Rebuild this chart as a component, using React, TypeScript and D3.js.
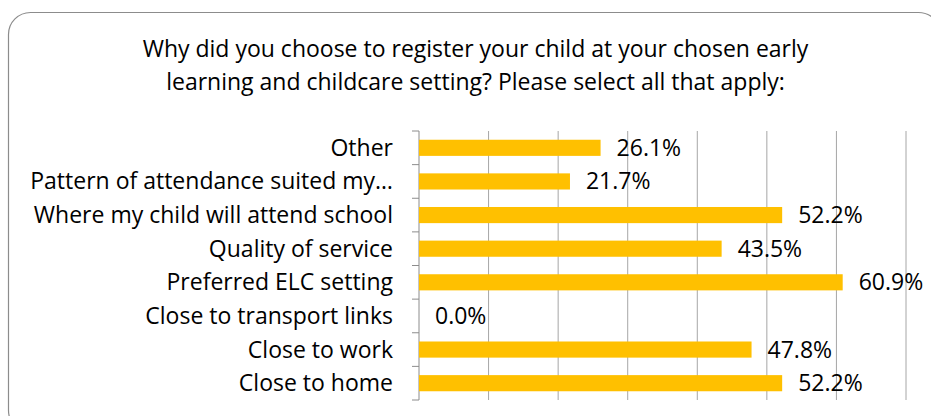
import React from "react";
import * as d3 from "d3";

const categories = [
  "Close to home",
  "Close to work",
  "Close to transport links",
  "Preferred ELC setting",
  "Quality of service",
  "Where my child will attend school",
  "Pattern of attendance suited my…",
  "Other",
];
const values = [52.2, 47.8, 0.0, 60.9, 43.5, 52.2, 21.7, 26.1];
const xTicks = [10, 20, 30, 40, 50, 60, 70];
const titleLines = [
  "Why did you choose to register your child at your chosen early",
  "learning and childcare setting? Please select all that apply:",
];

const W = 931;
const H = 416;
const FONT = "'Open Sans', sans-serif";

export default function App() {
  const x = d3.scaleLinear().domain([0, 70]).range([419, 906]);
  const y = d3
    .scaleBand<string>()
    .domain([...categories].reverse())
    .range([131, 400])
    .paddingInner(0.52)
    .paddingOuter(0.26);
  const step = y.step();
  const bounds = d3.range(categories.length + 1).map((i) => 131 + i * step);

  return (
    <svg
      width={W}
      height={H}
      style={{ position: "absolute", left: 0, top: 0, background: "#fff" }}
      fontFamily={FONT}
    >
      <rect x={8.5} y={12.5} width={932} height={420} rx={22} ry={22} fill="#fff" stroke="#8c8c8c" strokeWidth={1.2} />
      {titleLines.map((t, i) => (
        <text key={i} x={475.5} y={56.5 + i * 33} textAnchor="middle" fontSize={23} fill="#000">
          {t}
        </text>
      ))}
      {xTicks.map((t) => (
        <line key={t} x1={x(t)} x2={x(t)} y1={131} y2={400} stroke="#a6a6a6" strokeWidth={1} />
      ))}
      <line x1={x(0)} x2={x(0)} y1={131} y2={400} stroke="#8c8c8c" strokeWidth={1} />
      {bounds.map((b, i) => (
        <line key={i} x1={412} x2={x(0)} y1={b} y2={b} stroke="#8c8c8c" strokeWidth={1} />
      ))}
      {categories.map((c, i) => {
        const yy = y(c)!;
        const v = values[i];
        const cy = yy + y.bandwidth() / 2;
        return (
          <g key={c}>
            <rect x={x(0)} y={yy} width={x(v) - x(0)} height={y.bandwidth()} fill="#FFC000" />
            <text x={393} y={cy + 8} textAnchor="end" fontSize={23} fill="#000">
              {c}
            </text>
            <text x={x(v) + 16} y={cy + 8} fontSize={23} fill="#000">
              {v.toFixed(1) + "%"}
            </text>
          </g>
        );
      })}
    </svg>
  );
}
